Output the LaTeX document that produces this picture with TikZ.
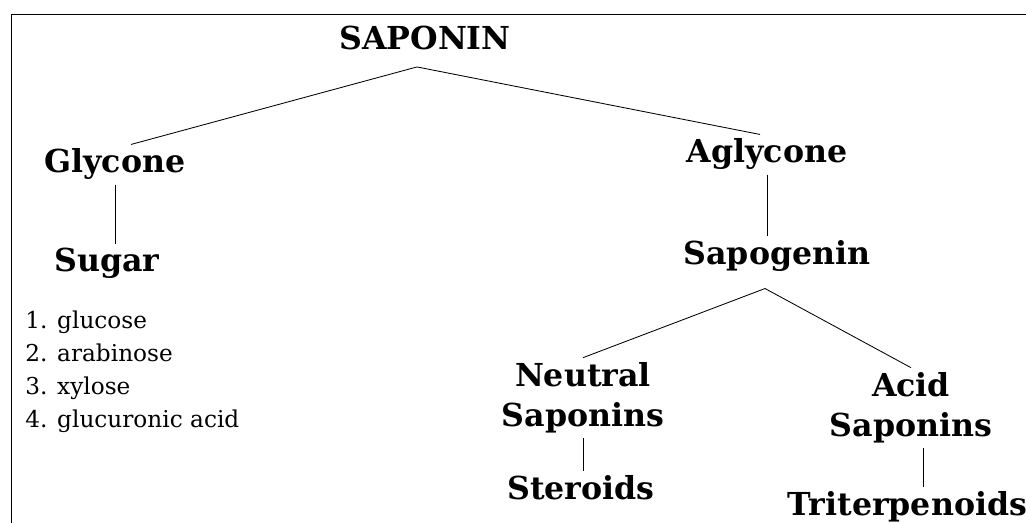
\documentclass[tikz,border=0pt]{standalone}
\usepackage{fontspec}
\setmainfont{DejaVu Serif}
\usepackage{tikz}
\usetikzlibrary{positioning,calc}
\tikzset{%
  head/.style = {font=\bfseries\fontsize{22.5}{29}\selectfont, anchor=base,
    align=center, inner sep=3pt},
  item/.style = {font=\fontsize{16.5}{18}\selectfont, anchor=base west,
    inner sep=0pt}, % sugar list
  link/.style = {line width=0.6pt}
}

\begin{document}
\begin{tikzpicture}[x=0.025cm, y=-0.025cm]
	\useasboundingbox (0,0) rectangle (1026,523);
	\clip (0,0) rectangle (1026,523);
	\draw[link] (11,523) |- (1026,14); % frame

	\draw node at (425,50) [head] (saponin) {SAPONIN};
	\draw node at (115,173) [head] (glycone) {Glycone};
	\draw node at (107,272) [head] (sugar) {Sugar};
	\draw node at (767,163) [head] (aglycone) {Aglycone};
	\draw node at (777,265) [head] (sapogenin) {Sapogenin};
	\draw node at (583,427) [head] (neutral) {Neutral\\Saponins};
	\draw node at (581,500) [head] (steroids) {Steroids};
	\draw node at (911,437) [head] (acid) {Acid\\Saponins};
	\draw node at (783,516) [head, anchor=base west] (triterp) {Triterpenoids};

	\draw node at (25,329) [item] (s1) {1. glucose};
	\draw node at (25,362) [item] (s2) {2. arabinose};
	\draw node at (25,395) [item] (s3) {3. xylose};
	\draw node at (25,428) [item] (s4) {4. glucuronic acid};

	\coordinate (fork1) at ($(saponin.south)+(-8,12)$);
	\coordinate (fork2) at ($(sapogenin.south)+(-12,12)$);
	\coordinate (acidfoot) at ($(acid.south)+(12,0)$);

	\draw[link] ($(glycone.north)+(16,0)$) -- (fork1) -- ($(aglycone.north)+(-7,0)$);
	\draw[link] (glycone.south) -- (glycone.south |- sugar.north);
	\draw[link] (aglycone.south) -- (aglycone.south |- sapogenin.north);
	\draw[link] (neutral.north) -- (fork2) -- (acid.north);
	\draw[link] (neutral.south) -- (neutral.south |- steroids.north);
	\draw[link] (acidfoot) -- (acidfoot |- triterp.north);
\end{tikzpicture}
\end{document}
